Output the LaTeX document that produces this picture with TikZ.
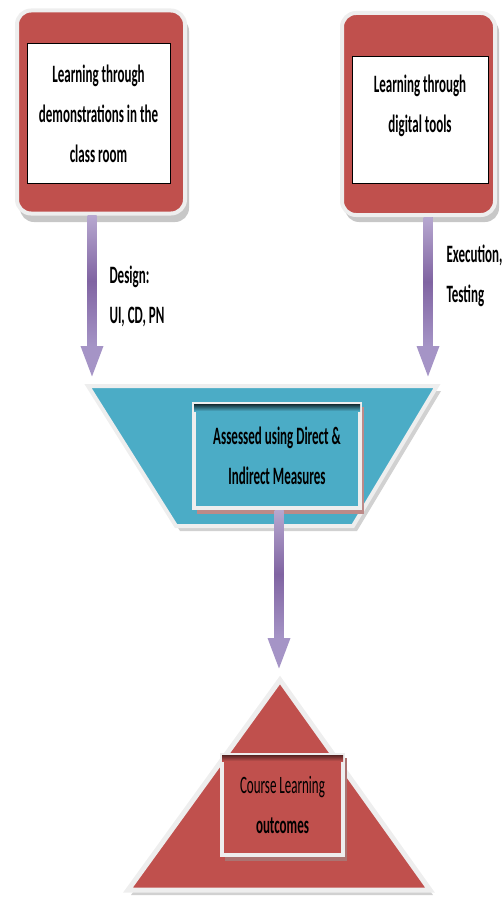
\documentclass[tikz,border=0pt]{standalone}
\usepackage{fontspec}
\newfontfamily\calfont[FakeStretch=0.52]{Carlito}
\usetikzlibrary{arrows.meta,calc}
\definecolor{cred}{HTML}{C0504D}
\definecolor{cteal}{HTML}{4BACC6}
\definecolor{cpurple}{HTML}{A594C6}
\definecolor{cpurpled}{HTML}{8064A2}
\definecolor{cpurplel}{HTML}{B7A8D0}
\definecolor{cframe}{HTML}{EEEEEE}
\begin{document}
\begin{tikzpicture}[x=1pt,y=-1pt,
  frame/.style={draw=cframe, line width=4pt},
  shadowfill/.style={fill=black!22},
  outerred/.style={rectangle, rounded corners=14pt, fill=cred, frame},
  innerwhite/.style={rectangle, draw=black, line width=1pt, fill=white},
  lab/.style={font=\calfont\bfseries\fontsize{25}{40}\selectfont, align=center, text=black},
  labreg/.style={font=\calfont\fontsize{25}{40}\selectfont, align=center, text=black},
  conn/.style={line width=9pt, draw=cpurple, -{Triangle[length=33pt,width=20pt]}},
  shaftshade/.style={top color=cpurplel, bottom color=cpurple, middle color=cpurpled}
]
\useasboundingbox (0,0) rectangle (501,899);

% ---- top left box
\fill[shadowfill, rounded corners=14pt] (20,17) rectangle (189,222);
\node[outerred, minimum width=168pt, minimum height=203pt] (L) at (101,112) {};
\node[innerwhite, lab, minimum width=143pt, minimum height=139pt] (Lt) at (98.5,113.5)
  {Learning through\\demonstrations in the\\class room};

% ---- top right box
\fill[shadowfill, rounded corners=14pt] (345,18) rectangle (499,222);
\node[outerred, minimum width=153pt, minimum height=202pt] (R) at (418.5,114) {};
\node[innerwhite, minimum width=136pt, minimum height=126pt] (Rb) at (420,120) {};
\node[lab] (Rt) at (420,106) {Learning through\\digital tools};

% ---- trapezoid
\fill[black!18] (92,391) -- (441,391) -- (357,531) -- (180,531) -- cycle;
\draw[frame, fill=cteal, line join=miter] (88,386) -- (437,386) -- (353,526) -- (176,526) -- cycle;

\fill[black!25!cred!60] (197,407) rectangle (364,514);
\node[rectangle, frame, fill=cteal, lab, minimum width=166pt, minimum height=104pt] (A) at (277,456)
  {Assessed using Direct \&\\Indirect Measures};
\shade[top color=black!75!cteal, bottom color=cteal] ($(A.north west)+(2,2)$) rectangle ($(A.north east)+(-2,9)$);

% ---- arrows
\coordinate (lt) at (92,379);
\coordinate (rt) at (428,379);
\coordinate (ct) at (279,671);
\draw[conn] (L.south -| lt) -- (lt);
\draw[conn] (R.south -| rt) -- (rt);
\draw[conn] (A.south -| ct) -- (ct);
\shade[shaftshade] ($(L.south -| lt)+(-4.5,0)$) rectangle ($(lt)+(4.5,-33)$);
\shade[shaftshade] ($(R.south -| rt)+(-4.5,0)$) rectangle ($(rt)+(4.5,-33)$);
\shade[shaftshade] ($(A.south -| ct)+(-4.5,0)$) rectangle ($(ct)+(4.5,-33)$);

% ---- labels
\node[lab, align=left, anchor=west] (dl) at (106,296) {Design:\\UI, CD, PN};
\node[lab, align=left, anchor=west] (el) at (443,276) {Execution,\\Testing};

% ---- triangle
\fill[black!18] (131,895) -- (283,685) -- (433,895) -- cycle;
\draw[frame, line width=5pt, fill=cred, line join=miter] (128,890) -- (280,680) -- (430,890) -- cycle;

\fill[black!30!cred!70] (225,758) rectangle (347,861);
\node[rectangle, frame, fill=cred, labreg, minimum width=121pt, minimum height=100pt] (C) at (282.5,805)
  {Course Learning\\{\bfseries outcomes}};
\shade[top color=black!55!cred, bottom color=cred] ($(C.north west)+(2,2)$) rectangle ($(C.north east)+(-2,8)$);
\end{tikzpicture}
\end{document}
